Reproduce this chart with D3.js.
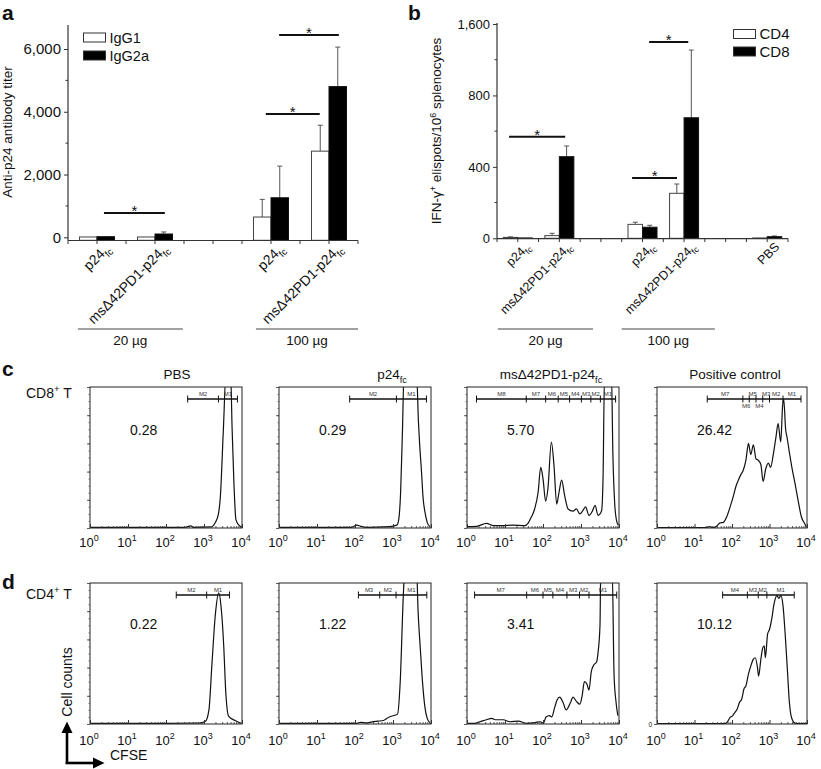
<!DOCTYPE html>
<html><head><meta charset="utf-8">
<script src="https://d3js.org/d3.v7.min.js"></script>
<style>
body{margin:0;background:#fff;}
svg text{font-family:"Liberation Sans",Arial,Helvetica,sans-serif;fill:#111;}
</style></head>
<body>
<svg id="fig" width="821" height="769" xmlns="http://www.w3.org/2000/svg"></svg>
<script>
// ================= DATA =================
// Panel a
const slotsA = ["p24_20","ms_20","gapA","p24_100","ms_100"];
const slotLabelsA = ["p24_fc","msΔ42PD1-p24_fc","","p24_fc","msΔ42PD1-p24_fc"];
const seriesA = ["IgG1","IgG2a"];
const igg1Vals  = [10, 10, null, 646, 2745];
const igg1Err   = [null, null, null, 1208, 3571];
const igg2aVals = [20, 105, null, 1260, 4802];
const igg2aErr  = [null, 170, null, 2268, 6061];
const yTicksA = [0, 2000, 4000, 6000];
const yTickLabelsA = ["0","2,000","4,000","6,000"];
const yMinorA = [1000, 3000, 5000];
const sigA = [[0.12, 1.17, 774], [2.91, 3.84, 3929], [3.14, 4.17, 6447]]; // [from slot, to slot, value]
const doseLabels = ["20 µg", "100 µg"];
const doseSpanA = [[-0.33, 1.48], [2.74, 4.5]];

// Panel b
const slotsB = ["p24_20","ms_20","gapB1","p24_100","ms_100","gapB2","pbs"];
const slotLabelsB = ["p24_fc","msΔ42PD1-p24_fc","","p24_fc","msΔ42PD1-p24_fc","","PBS"];
const seriesB = ["CD4","CD8"];
const cd4Vals = [5, 15, null, 78, 252, null, 2];
const cd4Err  = [8, 28, null, 90, 304, null, null];
const cd8Vals = [2, 457, null, 62, 675, null, 9];
const cd8Err  = [null, 517, null, 73, 1054, null, 13];
const yTicksB = [0, 400, 800, 1200];
const yTickLabelsB = ["0","400","800","1,600"];
const yMinorB = [200, 600, 1000];
const sigB = [[-0.21, 1.14, 569], [2.75, 3.83, 338], [3.16, 4.10, 1099]];
const doseSpanB = [[-0.48, 1.81], [2.5, 4.74]];

// Panels c/d : CFSE histograms, points are [log10(CFSE), fraction of full scale]
const histTitles = ["PBS", "p24_fc", "msΔ42PD1-p24_fc", "Positive control"];
const rowLabels = ["CD8^+ T", "CD4^+ T"];
const pctCD8 = ["0.28", "0.29", "5.70", "26.42"];
const pctCD4 = ["0.22", "1.22", "3.41", "10.12"];

const cd8PBS = [[0,0.005],[2.5,0.005],[2.65,0.015],[2.72,0.005],[3.2,0.008],[3.3,0.04],[3.38,0.1],[3.43,0.22],[3.51,0.7],[3.58,1.1],[3.70,1.1],[3.74,0.7],[3.79,0.3],[3.84,0.06],[3.92,0.02],[4,0.005]];
const cd8P24 = [[0,0.005],[1.9,0.005],[2.05,0.02],[2.15,0.012],[2.3,0.005],[2.9,0.01],[3.1,0.02],[3.15,0.06],[3.2,0.25],[3.25,0.7],[3.29,1.1],[3.62,1.1],[3.67,0.75],[3.70,0.6],[3.75,0.4],[3.79,0.22],[3.85,0.1],[3.9,0.04],[3.97,0.01]];
const cd8Ms = [[0,0.01],[0.25,0.012],[0.51,0.033],[0.7,0.017],[0.95,0.017],[1.2,0.02],[1.52,0.017],[1.61,0.035],[1.69,0.076],[1.78,0.135],[1.87,0.25],[1.94,0.43],[2.0,0.35],[2.07,0.19],[2.13,0.28],[2.22,0.61],[2.29,0.44],[2.36,0.17],[2.42,0.25],[2.49,0.34],[2.57,0.23],[2.66,0.135],[2.79,0.12],[2.88,0.135],[2.97,0.10],[3.04,0.12],[3.12,0.15],[3.21,0.09],[3.30,0.12],[3.37,0.16],[3.45,0.09],[3.54,0.12],[3.58,0.35],[3.62,1.1],[3.80,1.1],[3.84,0.51],[3.89,0.16],[3.93,0.06],[3.98,0.02]];
const cd8Pos = [[0,0.003],[1.3,0.003],[1.4,0.01],[1.5,0.003],[1.59,0.012],[1.68,0.036],[1.77,0.04],[1.86,0.08],[1.95,0.15],[2.04,0.23],[2.11,0.30],[2.17,0.34],[2.23,0.375],[2.30,0.41],[2.37,0.48],[2.44,0.60],[2.50,0.52],[2.57,0.59],[2.64,0.49],[2.70,0.48],[2.77,0.45],[2.83,0.33],[2.90,0.42],[2.97,0.46],[3.03,0.43],[3.10,0.52],[3.17,0.64],[3.23,0.74],[3.30,0.61],[3.35,0.87],[3.38,0.91],[3.43,0.70],[3.47,0.64],[3.54,0.52],[3.61,0.41],[3.67,0.33],[3.76,0.20],[3.85,0.08],[3.94,0.03],[3.98,0.01]];
const cd4PBS = [[0,0.005],[2.0,0.005],[2.87,0.007],[3.04,0.02],[3.13,0.1],[3.21,0.43],[3.30,0.78],[3.39,0.93],[3.45,0.83],[3.52,0.55],[3.57,0.24],[3.65,0.054],[3.83,0.023],[3.96,0.007]];
const cd4P24 = [[0,0.005],[2.05,0.005],[2.15,0.012],[2.3,0.008],[2.45,0.015],[2.6,0.02],[2.75,0.025],[2.9,0.05],[3.05,0.062],[3.12,0.07],[3.19,0.3],[3.27,0.9],[3.31,1.1],[3.62,1.1],[3.66,0.8],[3.71,0.57],[3.77,0.32],[3.84,0.12],[3.9,0.04],[3.97,0.01]];
const cd4Ms = [[0,0.005],[0.2,0.005],[0.34,0.016],[0.51,0.03],[0.65,0.04],[0.74,0.03],[0.95,0.03],[1.13,0.016],[1.35,0.02],[1.57,0.005],[1.79,0.01],[1.93,0.016],[2.01,0.005],[2.08,0.05],[2.17,0.06],[2.23,0.05],[2.31,0.12],[2.37,0.17],[2.44,0.19],[2.53,0.15],[2.61,0.10],[2.72,0.15],[2.79,0.19],[2.88,0.16],[2.97,0.14],[3.03,0.20],[3.09,0.30],[3.16,0.28],[3.21,0.24],[3.27,0.37],[3.34,0.42],[3.41,0.44],[3.45,0.51],[3.50,0.70],[3.52,1.1],[3.82,1.1],[3.87,0.35],[3.92,0.16],[3.97,0.06]];
const cd4Pos = [[0,0.003],[1.81,0.003],[1.87,0.012],[1.95,0.047],[2.02,0.06],[2.08,0.083],[2.14,0.106],[2.20,0.154],[2.26,0.177],[2.32,0.25],[2.37,0.27],[2.44,0.355],[2.50,0.41],[2.57,0.46],[2.62,0.47],[2.68,0.40],[2.71,0.34],[2.77,0.46],[2.82,0.54],[2.86,0.555],[2.89,0.47],[2.95,0.64],[3.00,0.67],[3.06,0.745],[3.12,0.85],[3.20,0.91],[3.25,0.89],[3.30,0.91],[3.36,0.84],[3.42,0.63],[3.48,0.37],[3.53,0.154],[3.60,0.035],[3.69,0.005],[4,0.003]];

// Marker gates (log10 boundaries) and labels
const gatesCD8 = [[2.57,3.38,3.88],[1.86,3.09,3.88],[0.25,1.56,2.07,2.40,2.70,3.01,3.26,3.51,3.91],[1.34,2.29,2.46,2.64,2.82,3.00,3.36,3.84]];
const gateLabelsCD8 = [["M2","M1"],["M2","M1"],["M8","M7","M6","M5","M4","M3","M2","M1"],["M7","M6","M5","M4","M3","M2","M1"]];
const gateBelowCD8 = [[],[],[],[0,1,0,1,0,0,0]];
const gatesCD4 = [[2.27,3.07,3.67],[2.09,2.65,3.08,3.89],[0.20,1.57,2.00,2.26,2.63,2.96,3.21,3.94],[1.75,2.41,2.70,2.93,3.66]];
const gateLabelsCD4 = [["M2","M1"],["M3","M2","M1"],["M7","M6","M5","M4","M3","M2","M1"],["M4","M3","M2","M1"]];
const gateBelowCD4 = [[],[],[],[]];
const decades = [0, 1, 2, 3, 4];

// ================= DRAWING =================
const svg = d3.select("#fig");
const defs = svg.append("defs");
const INK = "#111";

function richText(sel, str, size) {
  // "_" => subscript, "^" => superscript
  const m = str.match(/^([^_^]*)([_^])([^ ]*)(.*)$/);
  if (!m) { sel.append("tspan").text(str); return; }
  sel.append("tspan").text(m[1]);
  const small = size * 0.68;
  const shift = m[2] === "_" ? size * 0.28 : -size * 0.4;
  sel.append("tspan").attr("font-size", small).attr("dy", shift).text(m[3]);
  if (m[4]) sel.append("tspan").attr("dy", -shift).text(m[4]);
}

function panelLetter(t, x, y) {
  svg.append("text").attr("x", x).attr("y", y).attr("font-size", 21).attr("font-weight", "bold").text(t);
}

function barPanel(o) {
  const g = svg.append("g");
  const x = d3.scaleBand().domain(o.slots).range([o.x0, o.x1]);
  const step = x.step();
  const sx = s => o.x0 + step / 2 + s * step;
  const inner = d3.scaleBand().domain(o.series).range([0, step]).paddingInner(0).paddingOuter(o.po);
  const y = d3.scaleLinear().domain(o.domain).range(o.range);

  // bars
  o.series.forEach((s, si) => {
    o.slots.forEach((k, i) => {
      const v = o.vals[si][i];
      if (v == null) return;
      const bx = x(k) + inner(s), bw = inner.bandwidth();
      const top = y(v);
      const e = o.errs[si][i];
      if (e != null) {
        const ex = bx + bw / 2;
        g.append("line").attr("x1", ex).attr("x2", ex).attr("y1", top).attr("y2", y(e)).attr("stroke", "#555").attr("stroke-width", 1);
        g.append("line").attr("x1", ex - 2.5).attr("x2", ex + 2.5).attr("y1", y(e)).attr("y2", y(e)).attr("stroke", "#555").attr("stroke-width", 1);
      }
      g.append("rect").attr("x", bx).attr("y", top).attr("width", bw).attr("height", Math.max(0, o.base - top))
        .attr("fill", o.fills[si]).attr("stroke", si === 0 ? "#444" : "#111").attr("stroke-width", 1);
    });
  });

  // y axis
  const ya = g.append("g").attr("transform", `translate(${o.x0},0)`)
    .call(d3.axisLeft(y).tickValues(o.ticks).tickFormat((d, i) => o.tickLabels[i]).tickSize(4).tickPadding(3));
  ya.select(".domain").remove();
  ya.selectAll("text").attr("font-size", o.tickFont).attr("font-family", null).style("fill", INK);
  ya.selectAll("line").attr("stroke", "#333");
  o.minor.forEach(v => g.append("line").attr("x1", o.x0 - 2.5).attr("x2", o.x0).attr("y1", y(v)).attr("y2", y(v)).attr("stroke", "#333"));
  g.append("line").attr("x1", o.x0).attr("x2", o.x0).attr("y1", o.axisTop).attr("y2", o.axisY).attr("stroke", "#333").attr("stroke-width", 1.2);
  // x axis
  g.append("line").attr("x1", o.x0).attr("x2", o.x1).attr("y1", o.axisY).attr("y2", o.axisY).attr("stroke", "#333").attr("stroke-width", 1.2);
  d3.range(0, o.slots.length * 2 + 1).forEach(k => {
    const tx = o.x0 + k * step / 2;
    g.append("line").attr("x1", tx).attr("x2", tx).attr("y1", o.axisY).attr("y2", o.axisY + 3.5).attr("stroke", "#333");
  });
  // x labels
  o.slots.forEach((k, i) => {
    const lab = o.labels[i];
    if (!lab) return;
    const t = g.append("text").attr("text-anchor", "end").attr("font-size", o.labFont)
      .attr("transform", `translate(${sx(i) + o.ldx},${o.axisY + o.ldy}) rotate(-45)`);
    richText(t, lab, o.labFont);
  });
  // significance bars
  o.sig.forEach(([a, b, v]) => {
    const yy = y(v);
    g.append("line").attr("x1", sx(a)).attr("x2", sx(b)).attr("y1", yy).attr("y2", yy).attr("stroke", INK).attr("stroke-width", 2);
    g.append("text").attr("x", (sx(a) + sx(b)) / 2).attr("y", yy + o.starDy).attr("text-anchor", "middle").attr("font-size", 15).text("*");
  });
  // dose brackets
  o.dose.forEach(([a, b], i) => {
    g.append("line").attr("x1", sx(a)).attr("x2", sx(b)).attr("y1", 329).attr("y2", 329).attr("stroke", "#444").attr("stroke-width", 1.2);
    g.append("text").attr("x", (sx(a) + sx(b)) / 2).attr("y", 345).attr("text-anchor", "middle").attr("font-size", 13.5).text(doseLabels[i]);
  });
  // legend
  o.series.forEach((s, si) => {
    const ly = o.legY + si * o.legDy;
    g.append("rect").attr("x", o.legX).attr("y", ly).attr("width", 22).attr("height", 9)
      .attr("fill", o.fills[si]).attr("stroke", "#333").attr("stroke-width", 1);
    g.append("text").attr("x", o.legX + 26).attr("y", ly + 9.5).attr("font-size", o.legFont).text(s);
  });
  // y title
  const yt = g.append("text").attr("text-anchor", "middle").attr("font-size", 13.5)
    .attr("transform", `translate(${o.ytX},${o.ytY}) rotate(-90)`);
  o.yTitle(yt);
}

panelLetter("a", 2, 19.5);
barPanel({
  slots: slotsA, labels: slotLabelsA, series: seriesA,
  vals: [igg1Vals, igg2aVals], errs: [igg1Err, igg2aErr], fills: ["#fff", "#000"],
  x0: 68, x1: 358, po: 0.657, domain: [0, 6000], range: [237.3, 49], base: 240.3,
  axisY: 240.5, axisTop: 25, ticks: yTicksA, tickLabels: yTickLabelsA, minor: yMinorA, tickFont: 15,
  labFont: 14, ldx: 14, ldy: 9, sig: sigA, starDy: 3, dose: doseSpanA,
  legX: 83.5, legY: 33, legDy: 18, legFont: 14.5,
  ytX: 12, ytY: 132, yTitle: t => t.text("Anti-p24 antibody titer")
});

panelLetter("b", 408, 19.5);
barPanel({
  slots: slotsB, labels: slotLabelsB, series: seriesB,
  vals: [cd4Vals, cd8Vals], errs: [cd4Err, cd8Err], fills: ["#fff", "#000"],
  x0: 497, x1: 788, po: 0.433, domain: [0, 1200], range: [238.3, 24], base: 238.3,
  axisY: 238.6, axisTop: 23, ticks: yTicksB, tickLabels: yTickLabelsB, minor: yMinorB, tickFont: 13,
  labFont: 12.5, ldx: 13, ldy: 9, sig: sigB, starDy: 3, dose: doseSpanB,
  legX: 733.5, legY: 29.5, legDy: 17.5, legFont: 15,
  ytX: 441, ytY: 131, yTitle: t => {
    t.append("tspan").text("IFN-γ");
    t.append("tspan").attr("font-size", 9).attr("dy", -5).text("+");
    t.append("tspan").attr("dy", 5).text(" elispots/10");
    t.append("tspan").attr("font-size", 9).attr("dy", -5).text("6");
    t.append("tspan").attr("dy", 5).text(" splenocytes");
  }
});

// ---------- Histograms ----------
const histX = [90, 279, 467, 657];
const histW = [152, 152, 152, 150];
const titleX = [177, 392, 551, 735];
const rows = [
  { top: 387, h: 141, data: [cd8PBS, cd8P24, cd8Ms, cd8Pos], gates: gatesCD8, gl: gateLabelsCD8, gb: gateBelowCD8, pct: pctCD8, titles: true, letter: "c", lab: rowLabels[0], labY: 398, letY: 376, numY: 435, tickLabY: 547 },
  { top: 583, h: 141, data: [cd4PBS, cd4P24, cd4Ms, cd4Pos], gates: gatesCD4, gl: gateLabelsCD4, gb: gateBelowCD4, pct: pctCD4, titles: false, letter: "d", lab: rowLabels[1], labY: 599, letY: 589, numY: 629, tickLabY: 745 }
];

rows.forEach((r, ri) => {
  panelLetter(r.letter, 2, r.letY);
  const rl = svg.append("text").attr("x", 26).attr("y", r.labY).attr("font-size", 14);
  richText(rl, r.lab, 14);
  r.data.forEach((pts, pi) => {
    const x0 = histX[pi], w = histW[pi], top = r.top, h = r.h, bot = top + h;
    const g = svg.append("g");
    const x = d3.scaleLog().domain([1, 1e4]).range([x0, x0 + w]);
    const y = d3.scaleLinear().domain([0, 1]).range([bot, top]);
    const cid = `clip${ri}${pi}`;
    defs.append("clipPath").attr("id", cid).append("rect").attr("x", x0).attr("y", top).attr("width", w).attr("height", h);
    g.append("path").datum(pts).attr("clip-path", `url(#${cid})`)
      .attr("d", d3.line().x(d => x(Math.pow(10, d[0]))).y(d => y(d[1])).curve(d3.curveMonotoneX))
      .attr("fill", "none").attr("stroke", INK).attr("stroke-width", 1.2);
    // frame
    g.append("rect").attr("x", x0).attr("y", top).attr("width", w).attr("height", h)
      .attr("fill", "none").attr("stroke", "#222").attr("stroke-width", 1);
    // bottom log ticks (inward)
    const minor = [];
    for (let e = 0; e < 4; e++) for (let m = 2; m < 10; m++) minor.push(m * Math.pow(10, e));
    const major = decades.map(d => Math.pow(10, d));
    const xb = g.append("g").attr("transform", `translate(0,${bot})`).call(d3.axisBottom(x).tickValues(minor).tickSize(-2).tickFormat(""));
    xb.select(".domain").remove(); xb.selectAll("line").attr("stroke", "#333").attr("stroke-width", 0.8);
    const xm = g.append("g").attr("transform", `translate(0,${bot})`).call(d3.axisBottom(x).tickValues(major).tickSize(-4).tickFormat(""));
    xm.select(".domain").remove(); xm.selectAll("line").attr("stroke", "#333");
    decades.forEach(d => {
      const t = g.append("text").attr("x", x(Math.pow(10, d)) - 1).attr("y", r.tickLabY).attr("text-anchor", "middle").attr("font-size", 13);
      t.append("tspan").text("10");
      t.append("tspan").attr("font-size", 9).attr("dy", -6).text(String(d));
    });
    // left ticks (outward)
    const yl = g.append("g").attr("transform", `translate(${x0},0)`).call(d3.axisLeft(y).tickValues(d3.range(0, 1.0001, 0.2)).tickSize(3).tickFormat(""));
    yl.select(".domain").remove(); yl.selectAll("line").attr("stroke", "#333").attr("stroke-width", 0.8);
    const yn = g.append("g").attr("transform", `translate(${x0},0)`).call(d3.axisLeft(y).tickValues(d3.range(0.05, 1, 0.05)).tickSize(1.5).tickFormat(""));
    yn.select(".domain").remove(); yn.selectAll("line").attr("stroke", "#333").attr("stroke-width", 0.6);
    if (ri === 1 && pi === 3) g.append("text").attr("x", x0 - 5).attr("y", bot + 3).attr("text-anchor", "end").attr("font-size", 6.5).text("0");
    // gate markers
    const gy = top + 12;
    const gs = r.gates[pi];
    g.append("line").attr("x1", x(Math.pow(10, gs[0]))).attr("x2", x(Math.pow(10, gs[gs.length - 1]))).attr("y1", gy).attr("y2", gy).attr("stroke", INK).attr("stroke-width", 1.3);
    gs.forEach(v => g.append("line").attr("x1", x(Math.pow(10, v))).attr("x2", x(Math.pow(10, v))).attr("y1", gy - 3.5).attr("y2", gy + 3.5).attr("stroke", INK).attr("stroke-width", 1));
    r.gl[pi].forEach((lab, li) => {
      const mid = (x(Math.pow(10, gs[li])) + x(Math.pow(10, gs[li + 1]))) / 2;
      const below = r.gb[pi][li] === 1;
      g.append("text").attr("x", mid).attr("y", below ? gy + 9 : gy - 3).attr("text-anchor", "middle").attr("font-size", 6).style("fill", "#333").text(lab);
    });
    // percentage
    g.append("text").attr("x", x0 + 40).attr("y", r.numY).attr("font-size", 14).text(r.pct[pi]);
    // title
    if (r.titles) {
      const t = g.append("text").attr("x", titleX[pi]).attr("y", 379).attr("text-anchor", "middle").attr("font-size", 13.5);
      richText(t, histTitles[pi], 13.5);
    }
  });
});

// axis legend arrows
const ag = svg.append("g");
ag.append("line").attr("x1", 67).attr("x2", 67).attr("y1", 764).attr("y2", 731).attr("stroke", "#000").attr("stroke-width", 2.6);
ag.append("polygon").attr("points", "61.5,733 72.5,733 67,721.5").attr("fill", "#000");
ag.append("line").attr("x1", 65.7).attr("x2", 95).attr("y1", 763).attr("y2", 763).attr("stroke", "#000").attr("stroke-width", 2.6);
ag.append("polygon").attr("points", "93,757.5 93,768.5 104.5,763").attr("fill", "#000");
ag.append("text").attr("text-anchor", "middle").attr("font-size", 14).attr("transform", "translate(72,682) rotate(-90)").text("Cell counts");
ag.append("text").attr("x", 110).attr("y", 760).attr("font-size", 14).text("CFSE");
</script>
</body></html>
